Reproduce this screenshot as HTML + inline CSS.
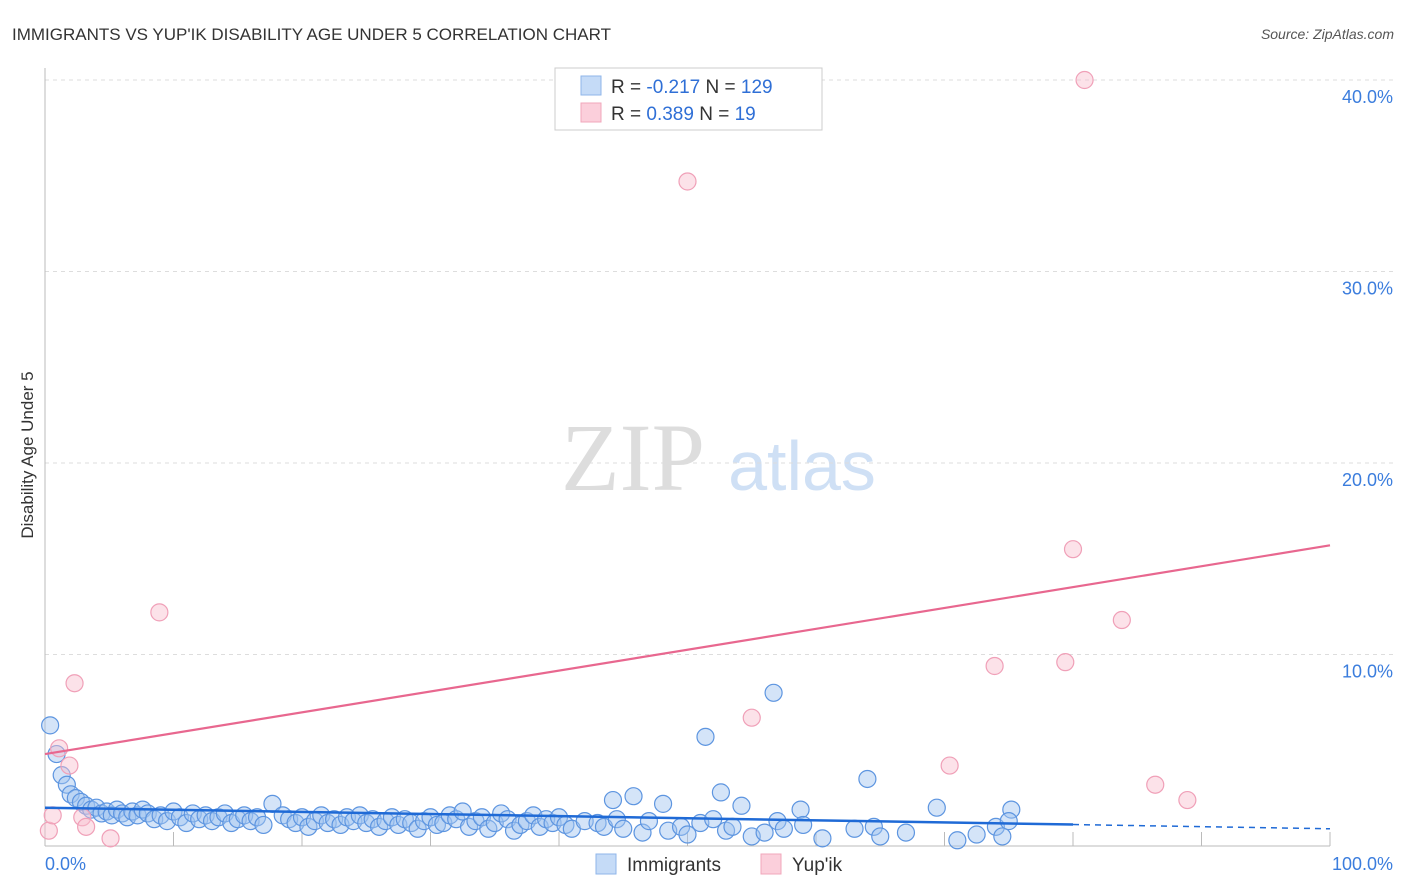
<!DOCTYPE html>
<html><head><meta charset="utf-8"><style>
body{margin:0;background:#fff;font-family:"Liberation Sans",sans-serif;}
svg{display:block}
</style></head><body>
<svg width="1406" height="892" id="chart">
<text x="12" y="40" font-size="17" fill="#333">IMMIGRANTS VS YUP'IK DISABILITY AGE UNDER 5 CORRELATION CHART</text>
<text x="1394" y="39" font-size="14" fill="#555" font-style="italic" text-anchor="end">Source: ZipAtlas.com</text>
<text transform="translate(33,455) rotate(-90)" font-size="17" fill="#333" text-anchor="middle">Disability Age Under 5</text>
<g>
<text x="633" y="490" font-size="96" font-family="Liberation Serif,serif" fill="#ddd" text-anchor="middle">ZIP</text>
<text x="802" y="490" font-size="70" fill="#cfe0f5" text-anchor="middle">atlas</text>
</g>
<g id="grid"></g><g id="axes"></g><g id="pts"></g><g id="lines"></g>
<g>
<rect x="555" y="68" width="267" height="62" fill="#fff" stroke="#ccc"/>
<rect x="581" y="76" width="20" height="19" fill="#c5dbf7" stroke="#8fb6ea"/>
<rect x="581" y="103" width="20" height="19" fill="#fbcfdb" stroke="#f0a7bb"/>
<text x="611" y="93" font-size="19" fill="#333">R = <tspan fill="#2f6fd6">-0.217</tspan>   N = <tspan fill="#2f6fd6">129</tspan></text>
<text x="611" y="120" font-size="19" fill="#333">R = <tspan fill="#2f6fd6"> 0.389</tspan>   N = <tspan fill="#2f6fd6">  19</tspan></text>
</g>
<g>
<rect x="596" y="854" width="20" height="20" fill="#c5dbf7" stroke="#8fb6ea"/>
<text x="627" y="871" font-size="19" fill="#333">Immigrants</text>
<rect x="761" y="854" width="20" height="20" fill="#fbcfdb" stroke="#f0a7bb"/>
<text x="792" y="871" font-size="19" fill="#333">Yup'ik</text>
</g>
</svg>
<script>
const yTicks=[10,20,30,40];
const yTickLabels=["10.0%","20.0%","30.0%","40.0%"];
const xTickLabels=["0.0%","100.0%"];
const blueX=[0.4,0.9,1.3,1.7,56.7,51.4,64.0,52.6,44.2,45.8,48.1,54.2,58.8,69.4,75.2,17.7,
2.0,2.4,2.8,3.2,3.6,4.0,4.4,4.8,5.2,5.6,6.0,6.4,6.8,7.2,7.6,8.0,8.5,9.0,9.5,10,10.5,11,11.5,12,12.5,13,13.5,14,14.5,15,15.5,16,16.5,17,18.5,19,19.5,20,20.5,21,21.5,22,22.5,23,23.5,24,24.5,25,25.5,26,26.5,27,27.5,28,28.5,29,29.5,30,30.5,31,31.5,32,32.5,33,33.5,34,34.5,35,35.5,36,36.5,37,37.5,38,38.5,39,39.5,40,40.5,41,42,43,43.5,44.5,45,46.5,47,48.5,49.5,50,51,52,53,53.5,55,56,57,57.5,59,60.5,63,64.5,65,67,71,72.5,74,74.5,75];
const blueY=[6.3,4.8,3.7,3.2,8.0,5.7,3.5,2.8,2.4,2.6,2.2,2.1,1.9,2.0,1.9,2.2,
2.7,2.5,2.3,2.1,1.9,2.0,1.7,1.8,1.6,1.9,1.7,1.5,1.8,1.6,1.9,1.7,1.4,1.6,1.3,1.8,1.5,1.2,1.7,1.4,1.6,1.3,1.5,1.7,1.2,1.4,1.6,1.3,1.5,1.1,1.6,1.4,1.2,1.5,1.0,1.3,1.6,1.2,1.4,1.1,1.5,1.3,1.6,1.2,1.4,1.0,1.3,1.5,1.1,1.4,1.2,0.9,1.3,1.5,1.1,1.2,1.6,1.4,1.8,1.0,1.3,1.5,0.9,1.2,1.7,1.4,0.8,1.1,1.3,1.6,1.0,1.4,1.2,1.5,1.1,0.9,1.3,1.2,1.0,1.4,0.9,0.7,1.3,0.8,1.0,0.6,1.2,1.4,0.8,1.0,0.5,0.7,1.3,0.9,1.1,0.4,0.9,1.0,0.5,0.7,0.3,0.6,1.0,0.5,1.3];
const pinkX=[0.3,0.6,1.1,1.9,2.3,2.9,3.2,5.1,8.9,50.0,55.0,70.4,73.9,79.4,80.0,80.9,83.8,86.4,88.9];
const pinkY=[0.8,1.6,5.1,4.2,8.5,1.5,1.0,0.4,12.2,34.7,6.7,4.2,9.4,9.6,15.5,40.0,11.8,3.2,2.4];
const blueFit=[2.0,0.9];const pinkFit=[4.8,15.7];
const X=v=>45+v*12.85, Y=v=>846-v*19.15;
const NS="http://www.w3.org/2000/svg";
function mk(parent,tag,attrs){const e=document.createElementNS(NS,tag);for(const k in attrs)e.setAttribute(k,attrs[k]);document.getElementById(parent).appendChild(e);return e;}
yTicks.forEach((t,i)=>{
 const l=mk('grid','line',{x1:45,x2:1393,y1:Y(t),y2:Y(t),stroke:'#ddd','stroke-dasharray':'4,4'});
 
 
 const tx=mk('grid','text',{x:1393,y:Y(t)+23,'font-size':18,fill:'#3b7ddd','text-anchor':'end'});
 tx.textContent=yTickLabels[i];
 
 
});
let a=mk('axes','line',{x1:45,x2:45,y1:68,y2:846,stroke:'#bbb'});


a=mk('axes','line',{x1:45,x2:1330,y1:846,y2:846,stroke:'#bbb'});


for(let i=1;i<=10;i++){const t=mk('axes','line',{x1:X(i*10),x2:X(i*10),y1:832,y2:846,stroke:'#bbb'});
 
 }
[[0,'start',45],[100,'end',1393]].forEach((d,i)=>{const t=mk('axes','text',{x:d[2],y:870,'font-size':18,fill:'#3b7ddd','text-anchor':d[1]});
 t.textContent=xTickLabels[i];
 
 });
blueX.forEach((x,i)=>{const c=mk('pts','circle',{cx:X(x),cy:Y(blueY[i]),r:8.5,fill:'rgba(160,196,240,0.45)',stroke:'#5d95e0','stroke-width':1.2});
 
 });
pinkX.forEach((x,i)=>{const c=mk('pts','circle',{cx:X(x),cy:Y(pinkY[i]),r:8.5,fill:'rgba(248,190,206,0.45)',stroke:'#f0a0b8','stroke-width':1.2});
 
 });
const bAt=v=>blueFit[0]+(blueFit[1]-blueFit[0])*v/100;
let ln=mk('lines','line',{x1:X(0),y1:Y(bAt(0)),x2:X(80),y2:Y(bAt(80)),stroke:'#1f6ad6','stroke-width':2.5});


ln=mk('lines','line',{x1:X(80),y1:Y(bAt(80)),x2:X(100),y2:Y(bAt(100)),stroke:'#1f6ad6','stroke-width':1.5,'stroke-dasharray':'6,5'});


ln=mk('lines','line',{x1:X(0),y1:Y(pinkFit[0]),x2:X(100),y2:Y(pinkFit[1]),stroke:'#e8678f','stroke-width':2.2});


</script>
</body></html>
